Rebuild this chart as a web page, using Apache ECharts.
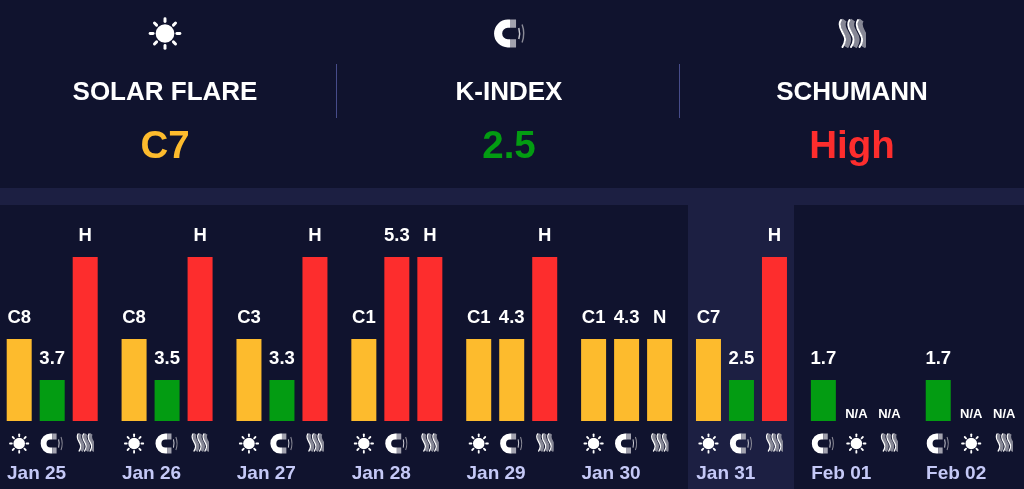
<!DOCTYPE html>
<html>
<head>
<meta charset="UTF-8">
<title>Space weather</title>
<script src="https://cdn.jsdelivr.net/npm/echarts@6/dist/echarts.min.js"></script>
<style>
    html, body { margin: 0; padding: 0; background: #10132e; }
    #main { width: 1024px; height: 489px; }
</style>
</head>
<body>
<div id="main"></div>
<script>
    // data
    var days = ['Jan 25', 'Jan 26', 'Jan 27', 'Jan 28', 'Jan 29', 'Jan 30', 'Jan 31', 'Feb 01', 'Feb 02'];
    var slotKinds = [
        ['sun', 'magnet', 'waves'], ['sun', 'magnet', 'waves'], ['sun', 'magnet', 'waves'],
        ['sun', 'magnet', 'waves'], ['sun', 'magnet', 'waves'], ['sun', 'magnet', 'waves'],
        ['sun', 'magnet', 'waves'], ['magnet', 'sun', 'waves'], ['magnet', 'sun', 'waves']
    ];
    var slotLabels = [
        ['C8', '3.7', 'H'], ['C8', '3.5', 'H'], ['C3', '3.3', 'H'],
        ['C1', '5.3', 'H'], ['C1', '4.3', 'H'], ['C1', '4.3', 'N'],
        ['C7', '2.5', 'H'], ['1.7', 'N/A', 'N/A'], ['1.7', 'N/A', 'N/A']
    ];
    // 0 = no data, 1 = low, 2 = medium, 4 = high
    var slotLevels = [
        [2, 1, 4], [2, 1, 4], [2, 1, 4],
        [2, 4, 4], [2, 2, 4], [2, 2, 2],
        [2, 1, 4], [1, 0, 0], [1, 0, 0]
    ];
    var headerTitles = ['SOLAR FLARE', 'K-INDEX', 'SCHUMANN'];
    var headerValues = ['C7', '2.5', 'High'];
    var headerIcons = ['sun', 'magnet', 'waves'];
    var headerLevels = [2, 1, 4];

    var levelColors = { 1: '#039c12', 2: '#fdbb2d', 4: '#fd2d2d' };
    var fontName = '"Liberation Sans", Arial, sans-serif';

    function svgUri(w, h, body) {
        return 'data:image/svg+xml,' + encodeURIComponent(
            '<svg xmlns="http://www.w3.org/2000/svg" width="' + w * 3 + '" height="' + h * 3 +
            '" viewBox="0 0 ' + w + ' ' + h + '">' + body + '</svg>');
    }
    function sunSvg() {
        var rays = '';
        for (var a = 0; a < 360; a += 45) {
            rays += '<line x1="12" y1="1.5" x2="12" y2="3.6" stroke="#fff" stroke-width="2.1" stroke-linecap="round" transform="rotate(' + a + ' 12 12)"/>';
        }
        return svgUri(24, 24, '<circle cx="12" cy="12" r="6.6" fill="#fff"/>' + rays);
    }
    function magnetSvg() {
        return svgUri(30, 26,
            '<path d="M15 4.2H13A8.8 8.8 0 0 0 13 21.8H15" fill="none" stroke="#fff" stroke-width="7.4"/>' +
            '<path d="M15 4.2H20.5M15 21.8H20.5" fill="none" stroke="#a2a2ae" stroke-width="7.4"/>' +
            '<path d="M23 8Q24.5 13 23 18" fill="none" stroke="#c8c8d0" stroke-width="1.3"/>' +
            '<path d="M26 5Q29 13 26 21" fill="none" stroke="#8a8a96" stroke-width="1.3"/>');
    }
    function wavesSvg() {
        var starts = [1.5, 10, 18.5];
        var wave = function (x) {
            return 'M' + (x + 1.5) + ' 1.5C' + (x - 1) + ' 5 ' + x + ' 9 ' + (x + 3) + ' 14S' + (x + 7) + ' 22 ' + (x + 3) + ' 28.5';
        };
        var out = '';
        starts.forEach(function (x) {
            out += '<path d="' + wave(x) + '" transform="translate(3.5 0)" fill="none" stroke="#868795" stroke-width="5"/>';
        });
        starts.forEach(function (x) {
            out += '<path d="' + wave(x) + '" fill="none" stroke="#fff" stroke-width="2" stroke-linecap="round"/>';
        });
        return svgUri(28, 30, out);
    }
    var iconUris = { sun: sunSvg(), magnet: magnetSvg(), waves: wavesSvg() };

    var richIcons = {
        sun: { width: 21, height: 21, backgroundColor: { image: iconUris.sun } },
        magnet: { width: 24, height: 21, backgroundColor: { image: iconUris.magnet } },
        waves: { width: 18, height: 19, backgroundColor: { image: iconUris.waves } }
    };

    var grids = [], xAxes = [], yAxes = [], series = [];
    var graphics = [];
    var pitch = 114.88;

    // band and today's column sit behind everything
    graphics.push({ type: 'rect', z: -1, shape: { x: 0, y: 188, width: 1024, height: 17 }, style: { fill: '#1c1f42' } });
    graphics.push({ type: 'rect', z: -1, shape: { x: 688, y: 205, width: 106, height: 284 }, style: { fill: '#1c1f42' } });

    days.forEach(function (day, i) {
        var left = 2.7 + pitch * i;
        grids.push({ left: left, top: 257, width: 99, height: 164 });
        xAxes.push({
            type: 'category',
            gridIndex: i,
            data: slotKinds[i],
            axisLine: { show: false },
            axisTick: { show: false },
            axisLabel: {
                interval: 0,
                margin: 12,
                formatter: function (v) { return '{' + v + '|}'; },
                rich: richIcons
            }
        });
        yAxes.push({ type: 'value', gridIndex: i, min: 0, max: 4, show: false, splitLine: { show: false } });
        series.push({
            type: 'bar',
            xAxisIndex: i,
            yAxisIndex: i,
            barWidth: 25,
            silent: true,
            animation: false,
            data: slotLevels[i].map(function (level, j) {
                var empty = level === 0;
                return {
                    value: level,
                    itemStyle: { color: levelColors[level] || 'transparent' },
                    label: {
                        show: true,
                        position: 'top',
                        distance: empty ? 0 : 12,
                        color: '#fff',
                        fontFamily: fontName,
                        fontWeight: 'bold',
                        fontSize: empty ? 13 : 18.5,
                        formatter: slotLabels[i][j]
                    }
                };
            })
        });
        graphics.push({
            type: 'text',
            x: left + 4.3,
            y: 474,
            style: {
                text: day,
                fill: '#c5c9f7',
                font: 'bold 19px ' + fontName,
                textAlign: 'left',
                textVerticalAlign: 'middle'
            }
        });
    });

    // header
    var headerX = [165, 509, 852];
    var headerIconSize = { sun: [34, 34], magnet: [33, 29], waves: [28, 30] };
    headerTitles.forEach(function (title, i) {
        var size = headerIconSize[headerIcons[i]];
        graphics.push({
            type: 'image',
            style: {
                image: iconUris[headerIcons[i]],
                x: headerX[i] - size[0] / 2 + (headerIcons[i] === 'magnet' ? 1 : 0),
                y: 33.5 - size[1] / 2,
                width: size[0],
                height: size[1]
            }
        });
        graphics.push({
            type: 'text', x: headerX[i], y: 92.5,
            style: { text: title, fill: '#fff', font: 'bold 26px ' + fontName, textAlign: 'center', textVerticalAlign: 'middle' }
        });
        graphics.push({
            type: 'text', x: headerX[i], y: 147.5,
            style: { text: headerValues[i], fill: levelColors[headerLevels[i]], font: 'bold 38.5px ' + fontName, textAlign: 'center', textVerticalAlign: 'middle' }
        });
    });
    [336, 679].forEach(function (x) {
        graphics.push({ type: 'rect', shape: { x: x, y: 64, width: 1, height: 54 }, style: { fill: '#474c8a' } });
    });

    var myChart = echarts.init(document.getElementById('main'), null, { renderer: 'canvas' });
    myChart.setOption({
        backgroundColor: '#10132e',
        animation: false,
        grid: grids,
        xAxis: xAxes,
        yAxis: yAxes,
        series: series,
        graphic: graphics
    });
</script>
</body>
</html>
